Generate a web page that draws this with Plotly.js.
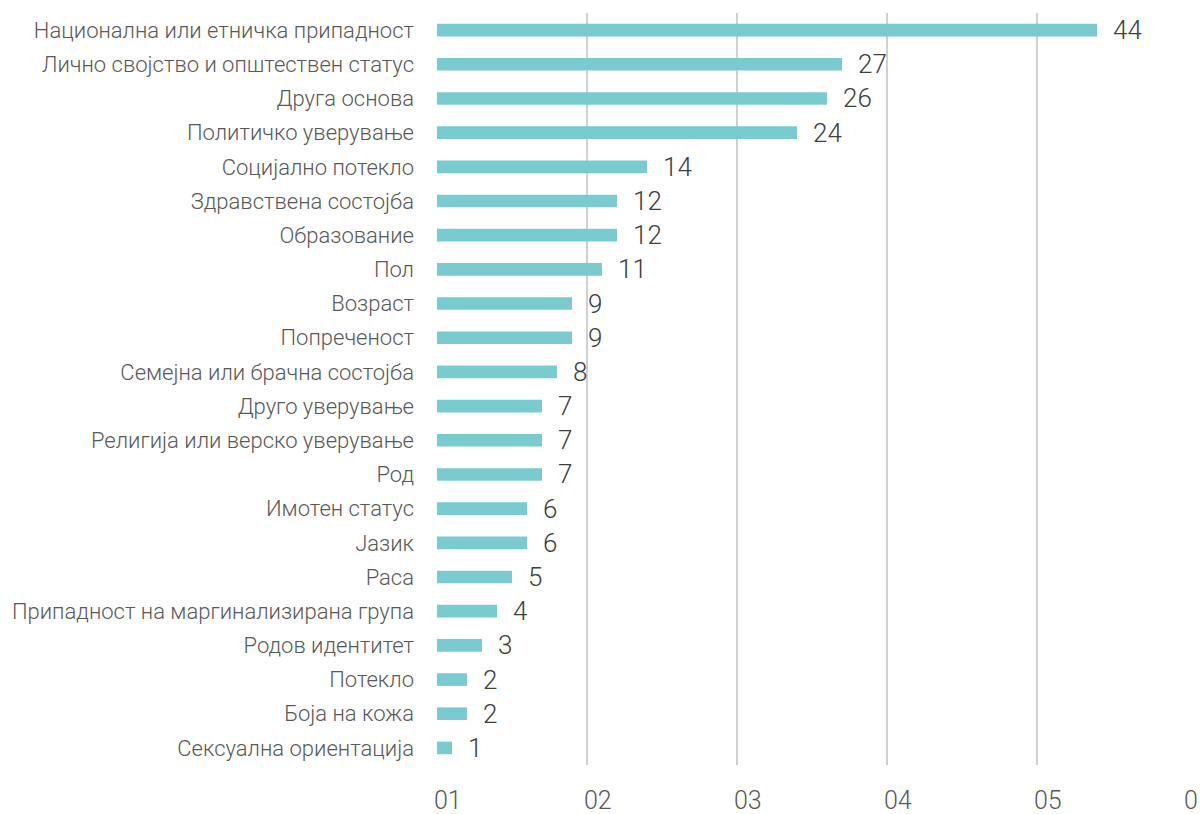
<!DOCTYPE html>
<html>
<head>
<meta charset="utf-8">
<script src="https://cdn.plot.ly/plotly-3.0.1.min.js"></script>
<style>
html,body{margin:0;padding:0;background:#fff;}
#chart{width:1203px;height:814px;}
</style>
</head>
<body>
<div id="chart"></div>
<script>
// Categories (top to bottom as displayed)
var categories = [
  "Национална или етничка припадност",
  "Лично својство и општествен статус",
  "Друга основа",
  "Политичко уверување",
  "Социјално потекло",
  "Здравствена состојба",
  "Образование",
  "Пол",
  "Возраст",
  "Попреченост",
  "Семејна или брачна состојба",
  "Друго уверување",
  "Религија или верско уверување",
  "Род",
  "Имотен статус",
  "Јазик",
  "Раса",
  "Припадност на маргинализирана група",
  "Родов идентитет",
  "Потекло",
  "Боја на кожа",
  "Сексуална ориентација"
];
var values = [44, 27, 26, 24, 14, 12, 12, 11, 9, 9, 8, 7, 7, 7, 6, 6, 5, 4, 3, 2, 2, 1];
var tickVals = [0, 10, 20, 30, 40, 50];
var tickText = ["01", "02", "03", "04", "05", "0"];

var FONT = "Roboto, 'Open Sans', sans-serif";

var trace = {
  type: "bar",
  orientation: "h",
  y: categories,
  x: values,
  width: 0.37,
  marker: {color: "#7acbd0"},
  hoverinfo: "skip"
};

var annotations = categories.map(function (c, i) {
  return {
    x: values[i], y: c, xref: "x", yref: "y",
    text: String(values[i]),
    showarrow: false,
    xanchor: "left", yanchor: "middle",
    xshift: 14, yshift: 0,
    font: {family: FONT, size: 26, color: "#404040", weight: 300}
  };
});

var layout = {
  width: 1203, height: 814,
  margin: {l: 437, r: 16, t: 13, b: 49},
  paper_bgcolor: "#ffffff",
  plot_bgcolor: "#ffffff",
  showlegend: false,
  font: {family: FONT, color: "#595959", weight: 300},
  xaxis: {
    range: [0, 50],
    tickvals: tickVals,
    ticktext: tickText,
    showgrid: true,
    gridcolor: "#d0d0d0",
    gridwidth: 1.5,
    zeroline: false,
    showline: false,
    ticks: "",
    ticklabelposition: "outside right",
    ticklabelstandoff: 18,
    ticklabelshift: -3,
    tickfont: {family: FONT, size: 25, color: "#595959", weight: 300},
    fixedrange: true
  },
  yaxis: {
    type: "category",
    categoryorder: "array",
    categoryarray: categories.slice().reverse(),
    autorange: false,
    range: [-0.5, categories.length - 0.5],
    showgrid: false,
    zeroline: false,
    showline: false,
    ticks: "",
    ticklabelstandoff: 22,
    tickfont: {family: FONT, size: 22, color: "#595959", weight: 300},
    fixedrange: true
  },
  annotations: annotations
};

Plotly.newPlot("chart", [trace], layout, {displayModeBar: false, staticPlot: true});
</script>
</body>
</html>
